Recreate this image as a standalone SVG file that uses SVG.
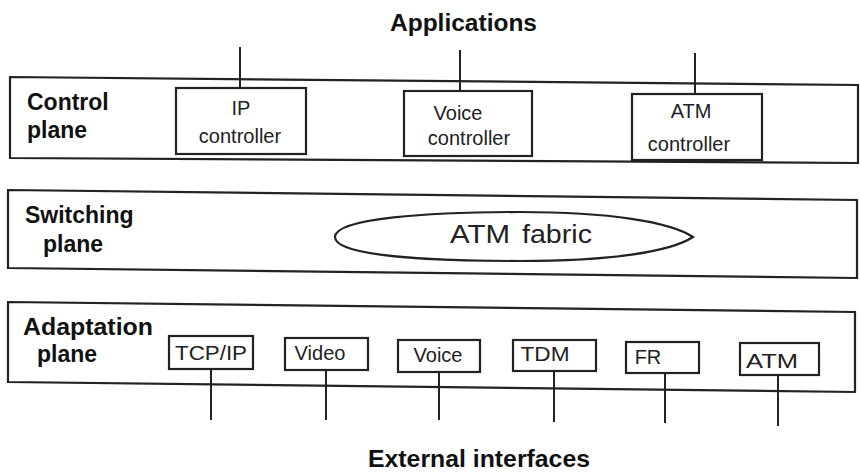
<svg xmlns="http://www.w3.org/2000/svg" width="860" height="474" viewBox="0 0 860 474">
<style>
.plane{fill:none;stroke:#222;stroke-width:2.2}
.box{fill:#fff;stroke:#222;stroke-width:2.2}
.ln{stroke:#222;stroke-width:2}
.lbl{font-family:"Liberation Sans",Arial,sans-serif;font-weight:bold;font-size:23px;fill:#111}
.t{font-family:"Liberation Sans",Arial,sans-serif;font-size:20px;fill:#222;text-anchor:middle}
.ta{font-family:"Liberation Sans",Arial,sans-serif;font-size:20px;fill:#222;text-anchor:middle}
.title{font-family:"Liberation Sans",Arial,sans-serif;font-weight:bold;font-size:23px;fill:#111}
</style>
<rect width="860" height="474" fill="#fff"/>
<text class="title" x="390" y="31" textLength="147" lengthAdjust="spacingAndGlyphs">Applications</text>
<text class="title" x="368" y="467" textLength="222" lengthAdjust="spacingAndGlyphs">External interfaces</text>
<g id="connectors">
<line class="ln" x1="240" y1="47" x2="240" y2="88"/>
<line class="ln" x1="460" y1="50" x2="460" y2="91"/>
<line class="ln" x1="695" y1="53" x2="695" y2="94"/>
<line class="ln" x1="211" y1="369" x2="211" y2="420"/>
<line class="ln" x1="326" y1="370" x2="326" y2="420"/>
<line class="ln" x1="439" y1="372" x2="439" y2="420"/>
<line class="ln" x1="554" y1="371" x2="554" y2="422"/>
<line class="ln" x1="665" y1="373" x2="665" y2="423"/>
<line class="ln" x1="778" y1="375" x2="778" y2="426"/>
</g>
<g id="control-plane">
<polygon class="plane" points="10,77 858,85 858,163 10,158"/>
<text class="lbl" x="27" y="110">Control</text>
<text class="lbl" x="27" y="138">plane</text>
</g>
<g id="ip-controller">
<rect class="box" x="176" y="88" width="130" height="66"/>
<text class="t" x="241" y="115">IP</text>
<text class="t" x="240" y="143">controller</text>
</g>
<g id="voice-controller">
<rect class="box" x="404" y="91" width="128" height="65"/>
<text class="t" x="458" y="120">Voice</text>
<text class="t" x="469" y="145">controller</text>
</g>
<g id="atm-controller">
<rect class="box" x="632" y="94" width="130" height="66"/>
<text class="t" x="691" y="118">ATM</text>
<text class="t" x="689" y="151">controller</text>
</g>
<g id="switching-plane">
<polygon class="plane" points="8,190 857,200 857,278 8,268"/>
<text class="lbl" x="25" y="223">Switching</text>
<text class="lbl" x="43" y="252">plane</text>
</g>
<g id="atm-fabric">
<path class="plane" d="M335,237 C335,218 430,212 520,212 C610,212 670,222 693,237 C670,252 610,261 520,261 C430,261 335,256 335,237 Z"/>
<text y="243" font-family="'Liberation Sans',Arial,sans-serif" font-size="25" fill="#222"><tspan x="450" textLength="60" lengthAdjust="spacingAndGlyphs">ATM</tspan> <tspan x="522" textLength="70" lengthAdjust="spacingAndGlyphs">fabric</tspan></text>
</g>
<g id="adaptation-plane">
<polygon class="plane" points="8,302 855,312 855,392 8,382"/>
<text class="lbl" x="23" y="335" textLength="130" lengthAdjust="spacingAndGlyphs">Adaptation</text>
<text class="lbl" x="37" y="362">plane</text>
</g>
<g id="tcpip"><rect class="box" x="169" y="336" width="84" height="33"/><text class="ta" x="211" y="360" textLength="72" lengthAdjust="spacingAndGlyphs">TCP/IP</text></g>
<g id="video"><rect class="box" x="285" y="338" width="83" height="32"/><text class="ta" x="320" y="360">Video</text></g>
<g id="voice"><rect class="box" x="398" y="340" width="82" height="32"/><text class="ta" x="438" y="362">Voice</text></g>
<g id="tdm"><rect class="box" x="513" y="340" width="83" height="31"/><text class="ta" x="545" y="361" textLength="49" lengthAdjust="spacingAndGlyphs">TDM</text></g>
<g id="fr"><rect class="box" x="626" y="342" width="73" height="31"/><text class="ta" x="648" y="364">FR</text></g>
<g id="atm"><rect class="box" x="740" y="343" width="79" height="32"/><text class="ta" x="772" y="368" textLength="52" lengthAdjust="spacingAndGlyphs">ATM</text></g>
</svg>
